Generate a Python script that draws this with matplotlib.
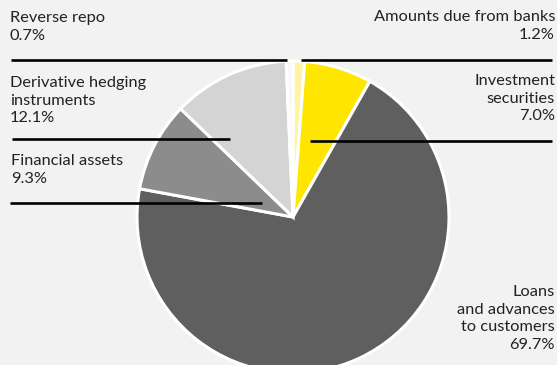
import matplotlib.pyplot as plt

# asset breakdown, clockwise from 12 o'clock
labels = ['Amounts due from banks', 'Investment securities', 'Loans and advances to customers',
          'Financial assets', 'Derivative hedging instruments', 'Reverse repo']
shares = [1.2, 7.0, 69.7, 9.3, 12.1, 0.7]
colors = ['#fff4a6', '#ffe600', '#5f5f5f', '#8c8c8c', '#d4d4d4', '#f8f8f8']

W, H = 557, 365
bg = '#f2f2f2'

fig = plt.figure(figsize=(W / 100, H / 100), dpi=100, facecolor=bg)
ax = fig.add_axes([0, 0, 1, 1])
ax.set_facecolor(bg)

def py(y):
    # pixel row (top-down) -> data y
    return H - y

ax.pie(shares, colors=colors, startangle=90, counterclock=False,
       center=(293, py(217)), radius=156,
       wedgeprops=dict(edgecolor='white', linewidth=2.2))

ax.set_xlim(0, W)
ax.set_ylim(0, H)
ax.set_aspect('equal')
ax.axis('off')

# leader lines
segs = [(11, 287, 60), (301, 552, 60), (12, 230, 139), (310, 552, 141), (10, 262, 203)]
for x0, x1, y in segs:
    ax.plot([x0, x1], [py(y), py(y)], color='black', lw=1.9, solid_capstyle='butt', zorder=5)

txt = dict(fontsize=11.8, color='#222222', family='Lato', va='top', linespacing=1.34)
ax.text(10, py(11), 'Reverse repo\n0.7%', ha='left', **txt)
ax.text(10, py(76), 'Derivative hedging\ninstruments\n12.1%', ha='left', **txt)
ax.text(11, py(154), 'Financial assets\n9.3%', ha='left', **txt)
ax.text(555, py(10), 'Amounts due from banks\n1.2%', ha='right', multialignment='right', **txt)
ax.text(555, py(74), 'Investment\nsecurities\n7.0%', ha='right', multialignment='right', **txt)
ax.text(555, py(285), 'Loans\nand advances\nto customers\n69.7%', ha='right',
        multialignment='right', **txt)

fig.savefig('out.png', dpi=100, facecolor=bg)
